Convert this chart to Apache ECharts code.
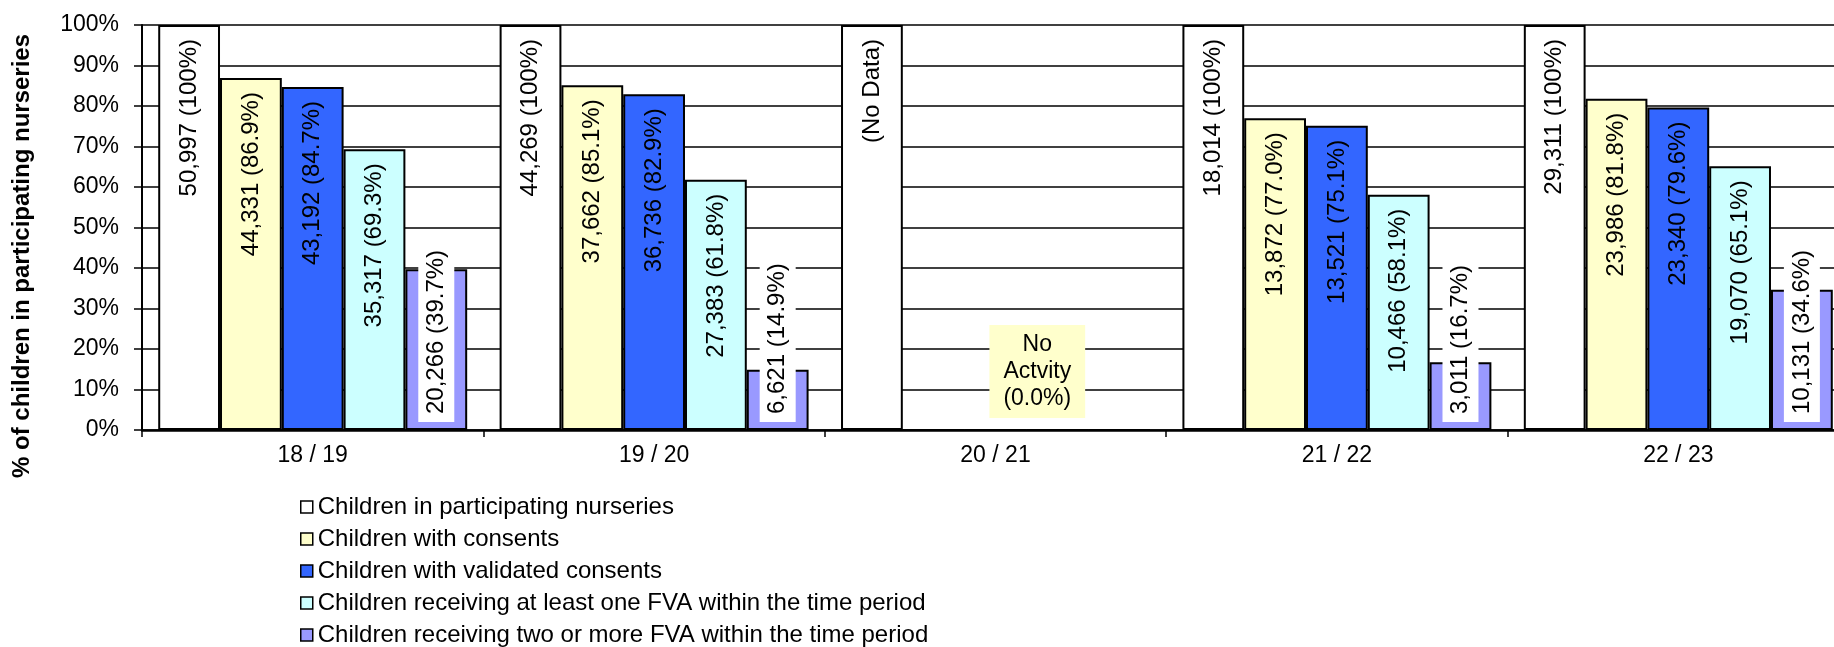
<!DOCTYPE html>
<html>
<head>
<meta charset="utf-8">
<title>Children in participating nurseries</title>
<script src="https://cdn.jsdelivr.net/npm/echarts@6/dist/echarts.min.js"></script>
<style>
  html, body { margin: 0; padding: 0; background: #fff; }
  #chart { width: 1834px; height: 647px; }
</style>
</head>
<body>
<div id="chart"></div>
<script>
const categories = ['18 / 19', '19 / 20', '20 / 21', '21 / 22', '22 / 23']
const seriesNames = [
  'Children in participating nurseries',
  'Children with consents',
  'Children with validated consents',
  'Children receiving at least one FVA within the time period',
  'Children receiving two or more FVA within the time period'
]

// percentages of children in participating nurseries
const nurseriesPct = [100, 100, 100, 100, 100]
const consentsPct = [86.9, 85.1, 0, 77.0, 81.8]
const validatedPct = [84.7, 82.9, 0, 75.1, 79.6]
const oneFvaPct = [69.3, 61.8, 0, 58.1, 65.1]
const twoFvaPct = [39.7, 14.9, 0, 16.7, 34.6]

// number of children (null = no data for that year)
const nurseriesCount = [50997, 44269, null, 18014, 29311]
const consentsCount = [44331, 37662, null, 13872, 23986]
const validatedCount = [43192, 36736, null, 13521, 23340]
const oneFvaCount = [35317, 27383, null, 10466, 19070]
const twoFvaCount = [20266, 6621, null, 3011, 10131]

const noDataText = '(No Data)'
const noActivityText = 'No\nActvity\n(0.0%)'

const pctData = [nurseriesPct, consentsPct, validatedPct, oneFvaPct, twoFvaPct]
const countData = [nurseriesCount, consentsCount, validatedCount, oneFvaCount, twoFvaCount]
const colors = ['#FFFFFF', '#FFFFCC', '#3366FF', '#CCFFFF', '#9999FF']
const font = "'Liberation Sans', Arial, sans-serif"

const formatLabel = p => {
  const count = countData[p.seriesIndex][p.dataIndex]
  if (count == null) return ''
  const pct = p.value === 100 ? '100%' : p.value.toFixed(1) + '%'
  return count.toLocaleString('en-US') + ' (' + pct + ')'
}

const topLabel = {
  show: true,
  position: 'insideTop',
  rotate: 90,
  align: 'right',
  verticalAlign: 'middle',
  distance: 14,
  fontSize: 24,
  fontFamily: font,
  color: '#000',
  formatter: formatLabel
}

const bottomLabel = {
  show: true,
  position: 'insideBottom',
  rotate: 90,
  align: 'left',
  verticalAlign: 'middle',
  distance: 8,
  padding: [6, 8],
  backgroundColor: '#fff',
  fontSize: 24,
  fontFamily: font,
  color: '#000',
  formatter: formatLabel
}

const seriesArr = seriesNames.map((name, i) => ({
  name: name,
  type: 'bar',
  barGap: 0,
  barCategoryGap: '9.5%',
  itemStyle: { color: colors[i], borderColor: '#000', borderWidth: 2 },
  label: i === 4 ? bottomLabel : topLabel,
  emphasis: { disabled: true },
  data: pctData[i].map((v, j) => {
    const item = { value: v }
    if (countData[i][j] == null && i === 0) {
      item.label = { formatter: noDataText }
    }
    if (countData[i][j] == null && i === 3) {
      item.label = {
        show: true,
        rotate: 0,
        position: 'insideBottom',
        align: 'center',
        verticalAlign: 'bottom',
        distance: 13,
        offset: [-20, 0],
        lineHeight: 27,
        fontSize: 23,
        padding: [6, 14],
        backgroundColor: '#FFFFCC',
        formatter: noActivityText
      }
    }
    return item
  })
}))

const option = {
  animation: false,
  backgroundColor: '#fff',
  grid: {
    left: 142,
    right: -15,
    top: 25,
    bottom: 217,
    outerBoundsMode: 'none'
  },
  legend: {
    orient: 'vertical',
    left: 300,
    top: 495,
    height: 160,
    padding: 0,
    itemWidth: 12,
    itemHeight: 12,
    itemGap: 8,
    itemTextGap: 2,
    icon: 'rect',
    selectedMode: false,
    itemStyle: { borderColor: '#000', borderWidth: 1.5 },
    textStyle: { fontSize: 24, lineHeight: 24, fontFamily: font, color: '#000' },
    data: seriesNames
  },
  xAxis: {
    type: 'category',
    data: categories,
    axisLine: { lineStyle: { color: '#000', width: 2.5 } },
    axisTick: { show: true, length: 7, interval: 0, lineStyle: { color: '#000', width: 1.5 } },
    axisLabel: { fontSize: 23, fontFamily: font, color: '#000', margin: 14 }
  },
  yAxis: {
    type: 'value',
    min: 0,
    max: 100,
    interval: 10,
    name: '% of children in participating nurseries',
    nameLocation: 'middle',
    nameRotate: 90,
    nameGap: 108,
    nameTextStyle: {
      fontSize: 24,
      fontWeight: 'bold',
      fontFamily: font,
      color: '#000',
      padding: [0, 57, 0, 0]
    },
    axisLine: { show: true, lineStyle: { color: '#000', width: 2 } },
    axisTick: { show: true, length: 8, lineStyle: { color: '#000', width: 1.5 } },
    axisLabel: { fontSize: 23, fontFamily: font, color: '#000', margin: 23, formatter: '{value}%' },
    splitLine: { lineStyle: { color: '#000', width: 1.5 } }
  },
  series: seriesArr
}

const chart = echarts.init(document.getElementById('chart'), null, { renderer: 'canvas' })
chart.setOption(option)
window.addEventListener('resize', () => chart.resize())
</script>
</body>
</html>
